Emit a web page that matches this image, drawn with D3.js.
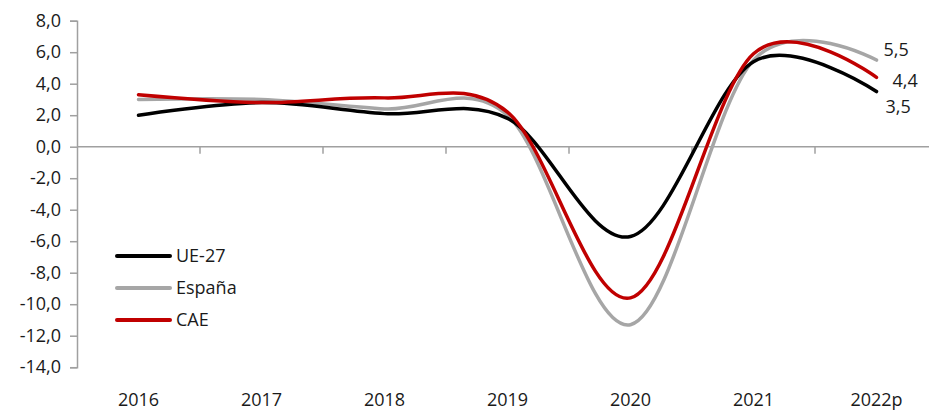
<!DOCTYPE html>
<html>
<head>
<meta charset="utf-8">
<script src="https://cdn.jsdelivr.net/npm/d3@7"></script>
<style>
  body { margin: 0; background: #fff; }
  text { font-family: "Segoe UI", "Open Sans", "Noto Sans", sans-serif; fill: #1a1a1a; }
</style>
</head>
<body>
<div id="chart"></div>
<script>
var width = 929;
var height = 410;

// datos
var years = ["2016", "2017", "2018", "2019", "2020", "2021", "2022p"];
var ue27 = [2.0, 2.8, 2.1, 1.8, -5.7, 5.4, 3.5];
var espana = [3.0, 3.0, 2.4, 2.0, -11.3, 5.5, 5.5];
var cae = [3.3, 2.8, 3.1, 2.2, -9.6, 5.9, 4.4];
var yTicks = [8, 6, 4, 2, 0, -2, -4, -6, -8, -10, -12, -14];

var series = [
  {name: "España", values: espana, color: "#a6a6a6"},
  {name: "UE-27", values: ue27, color: "#000000"},
  {name: "CAE", values: cae, color: "#c00000"}
];
var legendOrder = ["UE-27", "España", "CAE"];

var es = d3.formatLocale({decimal: ",", thousands: ".", grouping: [3], currency: ["", "€"], minus: "-"});
var fmt = es.format(".1f");

var svg = d3.select("#chart")
  .append("svg")
    .attr("width", width)
    .attr("height", height);

var x = d3.scaleBand()
  .domain(years)
  .range([77, 938])
  .padding(0);

var y = d3.scaleLinear()
  .domain([-14, 8])
  .range([367.2, 20.7]);

// eje y
var yAxis = svg.append("g")
  .attr("transform", "translate(77,0)")
  .call(d3.axisLeft(y).tickValues(yTicks).tickSize(7).tickPadding(9).tickFormat(fmt));
yAxis.select(".domain").attr("stroke", "#a0a0a0").attr("stroke-width", 1.5);
yAxis.selectAll(".tick line").attr("stroke", "#a0a0a0").attr("stroke-width", 1.5);
yAxis.selectAll(".tick text").attr("font-size", 18).attr("fill", "#1a1a1a")
  .style("font-family", "'Segoe UI', 'Open Sans', 'Noto Sans', sans-serif");

// eje x en el cero
svg.append("line")
  .attr("x1", 77).attr("x2", 938)
  .attr("y1", y(0)).attr("y2", y(0))
  .attr("stroke", "#a0a0a0").attr("stroke-width", 1.5);

svg.selectAll(".xtick")
  .data(years.slice(1))
  .enter().append("line")
    .attr("class", "xtick")
    .attr("x1", d => x(d)).attr("x2", d => x(d))
    .attr("y1", y(0)).attr("y2", y(0) + 7)
    .attr("stroke", "#a0a0a0").attr("stroke-width", 1.5);

svg.selectAll(".xlabel")
  .data(years)
  .enter().append("text")
    .attr("class", "xlabel")
    .attr("x", d => x(d) + x.bandwidth() / 2)
    .attr("y", 406)
    .attr("text-anchor", "middle")
    .attr("font-size", 18)
    .text(d => d);

// lineas
var line = d3.line()
  .x((d, i) => x(years[i]) + x.bandwidth() / 2)
  .y(d => y(d))
  .curve(d3.curveCatmullRom.alpha(0));

svg.selectAll(".serie")
  .data(series)
  .enter().append("path")
    .attr("class", "serie")
    .attr("d", d => line(d.values))
    .attr("fill", "none")
    .attr("stroke", d => d.color)
    .attr("stroke-width", 3.5)
    .attr("stroke-linecap", "round");

// etiquetas finales
var last = years.length - 1;
var endLabels = [
  {s: espana, dx: 7, dy: -10},
  {s: cae, dx: 16, dy: 3},
  {s: ue27, dx: 9, dy: 15}
];
svg.selectAll(".endlabel")
  .data(endLabels)
  .enter().append("text")
    .attr("class", "endlabel")
    .attr("x", d => x(years[last]) + x.bandwidth() / 2 + d.dx)
    .attr("y", d => y(d.s[last]) + d.dy)
    .attr("dy", "0.35em")
    .attr("font-size", 18)
    .text(d => fmt(d.s[last]));

// leyenda
var legend = svg.selectAll(".legend")
  .data(legendOrder.map(n => series.find(s => s.name == n)))
  .enter().append("g")
    .attr("class", "legend")
    .attr("transform", (d, i) => `translate(117, ${256 + i * 32})`);

legend.append("line")
  .attr("x1", 0).attr("x2", 53)
  .attr("stroke", d => d.color)
  .attr("stroke-width", 4)
  .attr("stroke-linecap", "round");

legend.append("text")
  .attr("x", 59)
  .attr("dy", "0.35em")
  .attr("font-size", 18)
  .text(d => d.name);
</script>
</body>
</html>
